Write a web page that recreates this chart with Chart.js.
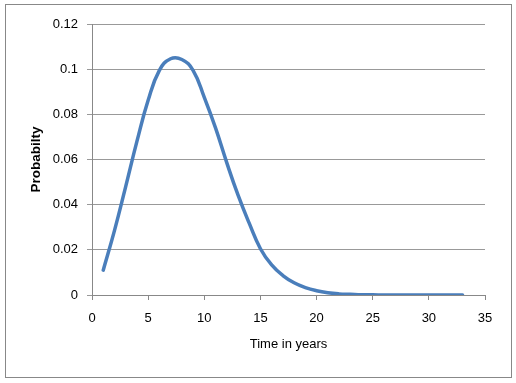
<!DOCTYPE html>
<html>
<head>
<meta charset="utf-8">
<script src="https://cdn.jsdelivr.net/npm/chart.js@4"></script>
<style>
  html, body { margin: 0; padding: 0; background: #fff; }
  #wrap { width: 516px; height: 383px; }
</style>
</head>
<body>
<div id="wrap"><canvas id="probChart" width="516" height="383"></canvas></div>
<script>
const years = [1, 2, 3, 4, 5, 6, 7, 8, 9, 10, 11, 12, 13, 14, 15, 16, 17,
  18, 19, 20, 21, 22, 23, 24, 25, 26, 27, 28, 29, 30, 31, 32, 33];
const probability = [0.011, 0.0285, 0.048, 0.068, 0.0862, 0.0995, 0.1046,
  0.1043, 0.0995, 0.0875, 0.074, 0.0586, 0.0443, 0.0318, 0.0205, 0.0133,
  0.0086, 0.0054, 0.0033, 0.0019, 0.001, 0.0005, 0.0003, 0.0001, 0.0001,
  0, 0, 0, 0, 0, 0, 0, 0];
const xTicks = [0, 5, 10, 15, 20, 25, 30, 35];
const yTicks = [0, 0.02, 0.04, 0.06, 0.08, 0.1, 0.12];

const chartBorder = {
  id: "chartBorder",
  beforeDraw(chart) {
    const ctx = chart.ctx;
    ctx.save();
    ctx.fillStyle = "#fff";
    ctx.fillRect(0, 0, chart.width, chart.height);
    ctx.strokeStyle = "#888";
    ctx.lineWidth = 1;
    ctx.strokeRect(5.5, 4.5, 506, 373);
    ctx.restore();
  },
};

const font = { family: "'Liberation Sans', Arial, sans-serif", size: 13 };

function generateChart() {
  const ctx = document.getElementById("probChart").getContext("2d");
  new Chart(ctx, {
    type: "line",
    data: {
      datasets: [
        {
          label: "Probability",
          data: years.map((yr, i) => ({ x: yr, y: probability[i] })),
          borderColor: "#4a7ebb",
          borderWidth: 3.5,
          borderCapStyle: "round",
          borderJoinStyle: "round",
          pointRadius: 0,
          tension: 0.45,
          fill: false,
        },
      ],
    },
    options: {
      responsive: false,
      animation: false,
      layout: { padding: { left: 0, top: 24, right: 31, bottom: 0 } },
      plugins: { legend: { display: false }, tooltip: { enabled: false } },
      scales: {
        x: {
          type: "linear",
          min: 0,
          max: 35,
          afterBuildTicks: (scale) => {
            scale.ticks = xTicks.map((v) => ({ value: v }));
          },
          afterFit: (scale) => {
            scale.height = 88;
          },
          border: { color: "#888", width: 1 },
          grid: { drawOnChartArea: false, color: "#888", tickLength: 5 },
          ticks: { color: "#000", font: font, padding: 11, maxRotation: 0 },
          title: {
            display: true,
            text: "Time in years",
            color: "#000",
            font: font,
            padding: { top: 0, bottom: 31 },
          },
        },
        y: {
          min: 0,
          max: 0.12,
          afterBuildTicks: (scale) => {
            scale.ticks = yTicks.map((v) => ({ value: v }));
          },
          afterFit: (scale) => {
            scale.width = 92;
          },
          border: { color: "#888", width: 1 },
          grid: { color: "#999", tickLength: 5 },
          ticks: {
            color: "#000",
            font: font,
            padding: 9,
            callback: (v) => String(Number(v.toFixed(2))),
          },
          title: {
            display: true,
            text: "Probabilty",
            color: "#000",
            font: { family: font.family, size: 13.5, weight: "bold" },
            padding: { top: 28, bottom: 0 },
          },
        },
      },
    },
    plugins: [chartBorder],
  });
}

generateChart();
</script>
</body>
</html>
